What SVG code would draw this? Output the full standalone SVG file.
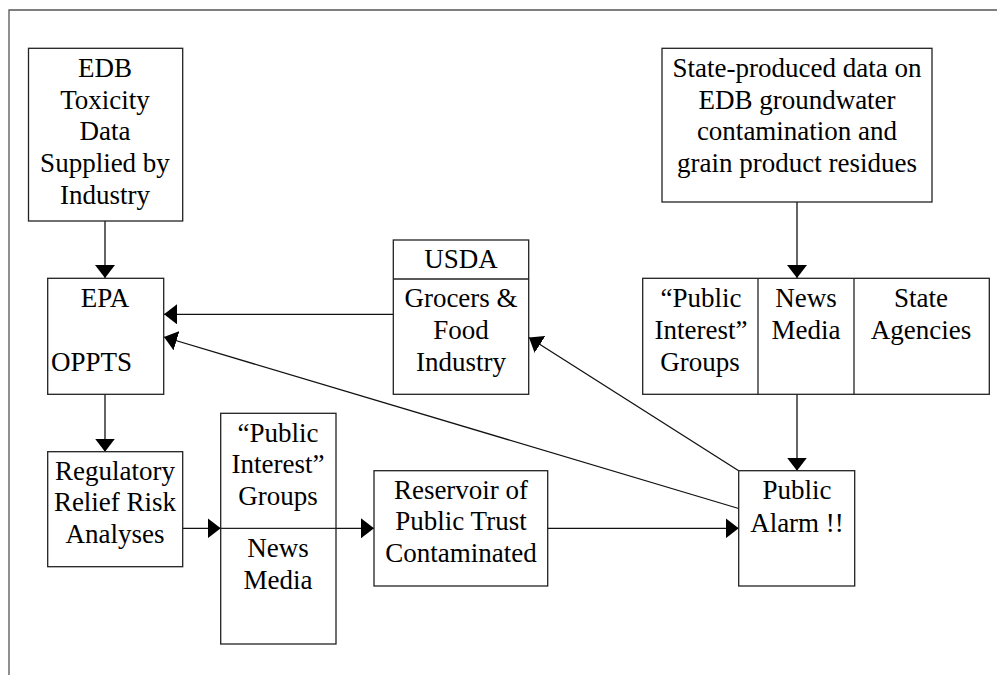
<svg xmlns="http://www.w3.org/2000/svg" width="997" height="675" viewBox="0 0 997 675">
<style>
.box, .div { fill: #fff; stroke: #222; stroke-width: 1.3; }
.div { fill: none; }
.frame { fill: none; stroke: #555; stroke-width: 1.3; }
text { font-family: "Liberation Serif", "Times New Roman", serif; font-size: 27px; fill: #000; text-anchor: middle; }
.conn { fill: none; stroke: #111; stroke-width: 1.3; marker-end: url(#ah); }
</style>
<defs>
<marker id="ah" markerUnits="userSpaceOnUse" markerWidth="13" markerHeight="20" refX="13" refY="10" orient="auto">
<path d="M0,0 L13,10 L0,20 z" fill="#000"/>
</marker>
</defs>
<path class="frame" d="M9,675 V10 H997"/>
<g id="connectors">
<line class="conn" x1="105" y1="221" x2="105" y2="278"/>
<line class="conn" x1="393" y1="314.3" x2="164" y2="314.3"/>
<line class="conn" x1="738.7" y1="508.5" x2="164" y2="337"/>
<line class="conn" x1="105" y1="394.3" x2="105" y2="451.7"/>
<line class="conn" x1="182.7" y1="528.3" x2="220.7" y2="528.3"/>
<line class="conn" x1="336" y1="528.3" x2="374" y2="528.3"/>
<line class="conn" x1="547.7" y1="528.3" x2="738.7" y2="528.3"/>
<line class="conn" x1="797" y1="202" x2="797" y2="278"/>
<line class="conn" x1="797" y1="394.3" x2="797" y2="470.7"/>
<line class="conn" x1="738.7" y1="470.7" x2="529" y2="337.5"/>
</g>
<g id="edb">
<rect class="box" x="28.5" y="48.3" width="154.2" height="172.7"/>
<text x="105" y="77">EDB</text>
<text x="105" y="108.5">Toxicity</text>
<text x="105" y="140">Data</text>
<text x="105" y="172">Supplied by</text>
<text x="105" y="204">Industry</text>
</g>
<g id="epa">
<rect class="box" x="47.7" y="278.3" width="116" height="116"/>
<text x="105" y="307">EPA</text>
<text x="51" y="371" style="text-anchor:start">OPPTS</text>
</g>
<g id="usda">
<rect class="box" x="393.3" y="240" width="135.4" height="154.3"/>
<line class="div" x1="393.3" y1="279" x2="528.7" y2="279"/>
<text x="461" y="268">USDA</text>
<text x="461" y="307">Grocers &amp;</text>
<text x="461" y="339">Food</text>
<text x="461" y="371">Industry</text>
</g>
<g id="state-data">
<rect class="box" x="662" y="48.3" width="270" height="153.7"/>
<text x="797" y="77">State-produced data on</text>
<text x="797" y="108.5">EDB groundwater</text>
<text x="797" y="140">contamination and</text>
<text x="797" y="172">grain product residues</text>
</g>
<g id="groups-media-agencies">
<rect class="box" x="642.7" y="278.3" width="346.6" height="116"/>
<line class="div" x1="758" y1="278.3" x2="758" y2="394.3"/>
<line class="div" x1="854" y1="278.3" x2="854" y2="394.3"/>
<text x="701" y="307">“Public</text>
<text x="701" y="339">Interest”</text>
<text x="700" y="371">Groups</text>
<text x="806" y="307">News</text>
<text x="806" y="339">Media</text>
<text x="921" y="307">State</text>
<text x="921" y="339">Agencies</text>
</g>
<g id="regulatory">
<rect class="box" x="47.7" y="451.7" width="135" height="115"/>
<text x="115" y="479.5">Regulatory</text>
<text x="115" y="511">Relief Risk</text>
<text x="115" y="543">Analyses</text>
</g>
<g id="groups-media">
<rect class="box" x="220.7" y="413.3" width="115.3" height="230.7"/>
<line class="div" x1="220.7" y1="528.3" x2="336" y2="528.3"/>
<text x="278" y="441.7">“Public</text>
<text x="278" y="473">Interest”</text>
<text x="278" y="505">Groups</text>
<text x="278" y="556.7">News</text>
<text x="278" y="588.5">Media</text>
</g>
<g id="reservoir">
<rect class="box" x="374" y="470.7" width="173.7" height="115.3"/>
<text x="461" y="498.5">Reservoir of</text>
<text x="461" y="530">Public Trust</text>
<text x="461" y="562">Contaminated</text>
</g>
<g id="public-alarm">
<rect class="box" x="738.7" y="470.7" width="116" height="115.3"/>
<text x="797" y="499">Public</text>
<text x="797" y="532">Alarm !!</text>
</g>
</svg>
